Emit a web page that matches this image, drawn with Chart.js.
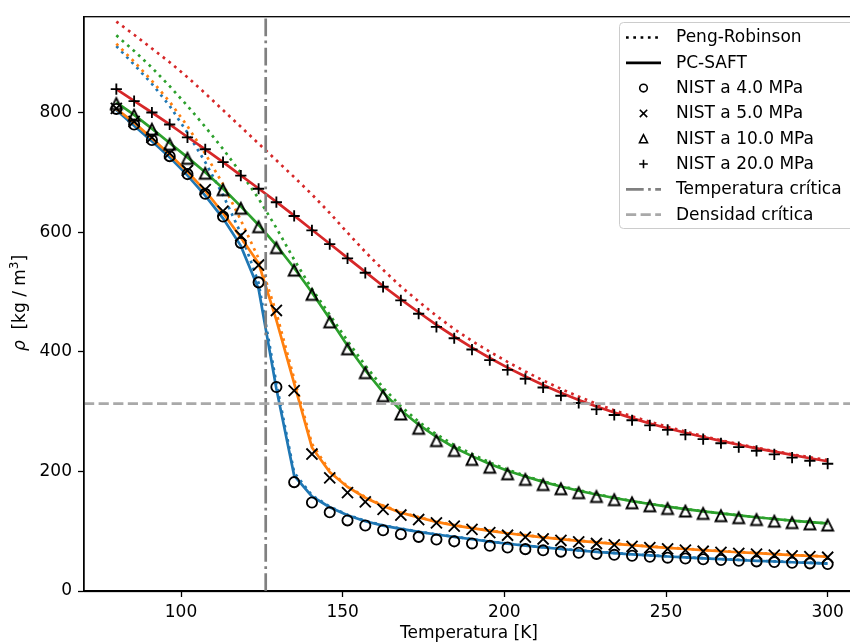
<!DOCTYPE html>
<html lang="es">
<head>
<meta charset="utf-8">
<title>Densidad del nitrógeno</title>
<script src="https://cdn.jsdelivr.net/npm/chart.js@4.4.1/dist/chart.umd.min.js"></script>
<style>
  html, body { margin: 0; padding: 0; background: #fff; overflow: hidden; }
  #grafica { display: block; }
</style>
</head>
<body>
<canvas id="grafica" width="880" height="643"></canvas>
<script>
// Malla de temperaturas [K]
const temperaturas = [80, 85.5, 91, 96.5, 102, 107.5, 113, 118.5, 124, 129.5, 135, 140.5, 146, 151.5, 157, 162.5, 168, 173.5, 179, 184.5,
    190, 195.5, 201, 206.5, 212, 217.5, 223, 228.5, 234, 239.5, 245, 250.5, 256, 261.5, 267, 272.5, 278, 283.5, 289, 294.5, 300];

// Datos NIST [kg/m3]
const nist4 = [806, 780, 754, 727, 697, 664, 626, 582, 516, 341, 182, 148, 131.5, 118, 109.5, 101.5, 95, 90.5, 86, 83,
    79.5, 75.5, 72.8, 70, 68, 65.8, 64, 62, 60.5, 59, 57.3, 55.7, 54.3, 53, 51.8, 50.6, 49.5, 48.4, 47.3, 46.2, 45.2];
const nist5 = [807, 785, 758.5, 732, 703, 671, 635, 594, 545, 469, 335, 229, 189, 164.5, 149, 136.5, 127, 119.5, 114, 108.5,
    103, 97.5, 93.2, 90, 87, 84.5, 82, 79.4, 77, 74.6, 72.4, 70.3, 68.3, 66.4, 64.6, 63, 61.5, 60, 58.6, 57.4, 56.4];
const nist10 = [815, 795.5, 772, 747, 723.5, 698.5, 671, 640, 609, 574, 536.5, 496, 450, 405, 365, 326.5, 296, 272, 251.5, 235,
    220, 207, 196, 186.6, 178, 171, 164.4, 158, 152.7, 147.5, 142.5, 138, 133.7, 129.7, 126, 122.6, 119.5, 116.8, 114.4, 112.3, 110.3];
const nist20 = [839, 819, 800, 780, 758.5, 738.5, 717, 694.5, 672.5, 650, 627, 603, 580, 556, 532, 508.6, 486, 463.6, 441.6, 422.6,
    403.7, 386, 369.8, 354.8, 340.3, 326.5, 314.3, 303.7, 294.3, 285.5, 277, 269.4, 261.5, 254, 247, 240.5, 234.4, 228.5, 223, 217.7, 212.8];

// PC-SAFT [kg/m3]
const saft4 = [804, 778, 752, 725, 695, 661, 623, 577, 505, 338, 193, 158, 140, 126.6, 116.6, 109.4, 103.8, 98.8, 94.4, 90.5,
    86.5, 82.5, 79, 75.8, 72.9, 70.2, 67.7, 65.4, 63.3, 61.3, 59.4, 57.7, 56.1, 54.6, 53.2, 51.8, 50.5, 49.3, 48.1, 47, 45.9];
const saft5 = [806, 783, 757, 730, 701, 669, 632, 591, 548, 453, 347, 240, 199, 174, 156, 142, 131, 122.8, 115.5, 109.8,
    105, 100.6, 96.6, 93, 89.7, 86.7, 83.9, 81.3, 78.9, 76.6, 74.3, 72.2, 70.2, 68.3, 66.5, 64.8, 63.2, 61.6, 60.1, 58.7, 57.3];
const saft10 = [817, 796, 773, 749, 725, 700, 673, 643, 612, 578, 540, 499, 455, 410, 369, 332, 302, 278, 257.5, 240,
    225.5, 212.5, 201, 191.3, 182.5, 174.7, 167.7, 161.3, 155.5, 150.2, 145.5, 141.1, 137, 133.2, 129.7, 126.4, 123.3, 120.4, 117.7, 115.2, 113];
const saft20 = [839, 819.5, 800, 780, 759, 738.5, 717, 695, 673, 650.5, 627.5, 604, 580.5, 557, 533.5, 510, 487.5, 466, 445, 425.5,
    407, 389.5, 373.5, 358.5, 344.5, 331.5, 319.5, 308.5, 298.5, 289, 280, 272, 264.5, 257.5, 251, 244.5, 238.5, 233, 227.5, 222, 217];

// Peng-Robinson [kg/m3]
const pr4 = [911, 880, 848, 811, 766, 717, 662, 598, 515, 347, 198, 160, 141, 127.5, 117.2, 110, 104.3, 99.2, 94.8, 90.8,
    86.8, 82.8, 79.3, 76.1, 73.2, 70.5, 68, 65.7, 63.6, 61.6, 59.7, 58, 56.4, 54.9, 53.5, 52.1, 50.8, 49.6, 48.4, 47.3, 46.2];
const pr5 = [915, 885, 853, 818, 777, 731, 680, 620, 556, 465, 355, 246, 201, 175, 157, 143, 132, 123.5, 116.2, 110.3,
    105.4, 101, 97, 93.4, 90.1, 87.1, 84.3, 81.7, 79.3, 77, 74.7, 72.6, 70.6, 68.7, 66.9, 65.2, 63.6, 62, 60.5, 59.1, 57.7];
const pr10 = [929, 903, 875, 844, 811, 776, 739, 699, 656, 607, 554, 505, 462, 418, 377, 340, 309, 283, 262, 244,
    229, 215, 203, 192.5, 183.5, 175.5, 168.5, 162, 156, 150.6, 145.7, 141.2, 137.1, 133.3, 129.8, 126.5, 123.4, 120.5, 117.8, 115.3, 113.1];
const pr20 = [952, 930, 907, 884, 859, 832, 804, 776, 748, 720, 692, 663, 632, 599, 567, 537, 509, 484, 460, 438,
    418, 400, 383, 367, 352, 338, 325, 313, 302, 292, 283, 274.5, 266.5, 259, 252, 245.5, 239.5, 234, 228.5, 223.5, 219];

const xTicks = [100, 150, 200, 250, 300];
const yTicks = [0, 200, 400, 600, 800];
const tempCritica = 126.2;   // K
const densCritica = 313.3;   // kg/m3

const etiquetasLeyenda = ['Peng-Robinson', 'PC-SAFT', 'NIST a 4.0 MPa', 'NIST a 5.0 MPa', 'NIST a 10.0 MPa',
    'NIST a 20.0 MPa', 'Temperatura crítica', 'Densidad crítica'];

const colores = ['#1f77b4', '#ff7f0e', '#2ca02c', '#d62728'];
const FUENTE = '"DejaVu Sans", "Liberation Sans", sans-serif';
const TAM = 17;                   // tamaño de letra
const GROSOR = 2.7;               // ancho de las curvas
const PUNTEADO = [2.7, 4.6];      // ':'
const RAYA_PUNTO = [17.7, 4.4, 2.7, 4.4];  // '-.'
const RAYADO = [10.2, 4.4];       // '--'

function puntos(valores) {
    return temperaturas.map((t, i) => ({ x: t, y: valores[i] }));
}

// Triangle marker centred on its bounding box
function marcadorTriangulo(medio, grosor) {
    const lado = 2 * Math.ceil(medio + grosor + 1);
    const c = document.createElement('canvas');
    c.width = lado;
    c.height = lado;
    const ctx = c.getContext('2d');
    const m = lado / 2;
    ctx.beginPath();
    ctx.moveTo(m, m - medio);
    ctx.lineTo(m - medio, m + medio);
    ctx.lineTo(m + medio, m + medio);
    ctx.closePath();
    ctx.lineWidth = grosor;
    ctx.strokeStyle = '#000';
    ctx.stroke();
    return c;
}

const triangulo = marcadorTriangulo(5.5, 1.85);

const series = [
    { nist: nist4, saft: saft4, pr: pr4, estilo: 'circle', radio: 5.1 },
    { nist: nist5, saft: saft5, pr: pr5, estilo: 'crossRot', radio: 7.8 },
    { nist: nist10, saft: saft10, pr: pr10, estilo: triangulo, radio: 6 },
    { nist: nist20, saft: saft20, pr: pr20, estilo: 'cross', radio: 5.6 }
];

// first dataset is drawn on top: markers, then PC-SAFT, then Peng-Robinson
function construirDatasets() {
    const datasets = [];
    series.forEach((s, k) => {
        datasets.push({
            label: etiquetasLeyenda[k + 2],
            data: puntos(s.nist),
            showLine: false,
            pointStyle: s.estilo,
            pointRadius: s.radio,
            pointBorderColor: '#000',
            pointBackgroundColor: 'rgba(0,0,0,0)',
            pointBorderWidth: 1.85
        });
    });
    [3, 2, 1, 0].forEach(k => {
        datasets.push({
            label: 'PC-SAFT',
            data: puntos(series[k].saft),
            showLine: true,
            borderColor: colores[k],
            borderWidth: GROSOR,
            pointRadius: 0
        });
    });
    [3, 2, 1, 0].forEach(k => {
        datasets.push({
            label: 'Peng-Robinson',
            data: puntos(series[k].pr),
            showLine: true,
            borderColor: colores[k],
            borderWidth: GROSOR,
            borderDash: PUNTEADO,
            pointRadius: 0
        });
    });
    return datasets;
}

// Critical temperature / density reference lines and the top spine
const lineasCriticas = {
    id: 'lineasCriticas',
    afterDatasetsDraw(chart) {
        const { ctx, chartArea: a, scales: { x, y } } = chart;
        ctx.save();
        ctx.beginPath();
        ctx.rect(a.left, a.top, a.right - a.left, a.bottom - a.top);
        ctx.clip();
        ctx.lineWidth = GROSOR;

        const px = x.getPixelForValue(tempCritica);
        ctx.strokeStyle = '#808080';
        ctx.setLineDash(RAYA_PUNTO);
        ctx.beginPath();
        ctx.moveTo(px, a.bottom);
        ctx.lineTo(px, a.top);
        ctx.stroke();

        const py = y.getPixelForValue(densCritica);
        ctx.strokeStyle = '#a9a9a9';
        ctx.setLineDash(RAYADO);
        ctx.beginPath();
        ctx.moveTo(a.left, py);
        ctx.lineTo(a.right, py);
        ctx.stroke();
        ctx.restore();

        ctx.save();
        ctx.strokeStyle = '#000';
        ctx.lineWidth = 1.3;
        ctx.strokeRect(a.left, a.top + 0.5, a.right - a.left, a.bottom - a.top);
        ctx.restore();
    }
};

// Axis titles and the legend box
const leyenda = {
    id: 'leyenda',
    afterDraw(chart) {
        const ctx = chart.ctx;
        const normal = TAM + 'px ' + FUENTE;
        ctx.save();
        ctx.fillStyle = '#000';

        // x title
        ctx.font = normal;
        ctx.textAlign = 'center';
        ctx.textBaseline = 'middle';
        ctx.fillText('Temperatura [K]', 469, 634);

        // y title: rho [kg / m^3]
        ctx.save();
        ctx.translate(21, 303);
        ctx.rotate(-Math.PI / 2);
        ctx.textAlign = 'left';
        const partes = [
            { t: 'ρ', f: 'italic ' + normal, dy: 0 },
            { t: '  [kg / m', f: normal, dy: 0 },
            { t: '3', f: '12px ' + FUENTE, dy: -6 },
            { t: ']', f: normal, dy: 0 }
        ];
        let total = 0;
        partes.forEach(p => { ctx.font = p.f; p.w = ctx.measureText(p.t).width; total += p.w; });
        let cx = -total / 2;
        partes.forEach(p => { ctx.font = p.f; ctx.fillText(p.t, cx, p.dy); cx += p.w; });
        ctx.restore();

        // legend frame
        const bx = 619.5, by = 22.5, bw = 250, bh = 206, r = 4;
        ctx.beginPath();
        ctx.moveTo(bx + r, by);
        ctx.lineTo(bx + bw - r, by);
        ctx.arcTo(bx + bw, by, bx + bw, by + r, r);
        ctx.lineTo(bx + bw, by + bh - r);
        ctx.arcTo(bx + bw, by + bh, bx + bw - r, by + bh, r);
        ctx.lineTo(bx + r, by + bh);
        ctx.arcTo(bx, by + bh, bx, by + bh - r, r);
        ctx.lineTo(bx, by + r);
        ctx.arcTo(bx, by, bx + r, by, r);
        ctx.closePath();
        ctx.fillStyle = 'rgba(255,255,255,0.8)';
        ctx.fill();
        ctx.strokeStyle = '#cccccc';
        ctx.lineWidth = 1;
        ctx.stroke();

        const x0 = 626, x1 = 661, xm = 643.5;
        etiquetasLeyenda.forEach((texto, i) => {
            const yy = 37.5 + i * 25.3;
            ctx.save();
            ctx.strokeStyle = '#000';
            ctx.lineWidth = GROSOR;
            if (i === 0 || i === 1 || i >= 6) {
                if (i === 0) ctx.setLineDash(PUNTEADO);
                if (i === 6) { ctx.setLineDash(RAYA_PUNTO); ctx.strokeStyle = '#808080'; }
                if (i === 7) { ctx.setLineDash(RAYADO); ctx.strokeStyle = '#a9a9a9'; }
                ctx.beginPath();
                ctx.moveTo(x0, yy);
                ctx.lineTo(x1, yy);
                ctx.stroke();
            } else {
                ctx.lineWidth = 1.6;
                ctx.beginPath();
                if (i === 2) {
                    ctx.arc(xm, yy, 3.8, 0, 2 * Math.PI);
                } else if (i === 3) {
                    ctx.moveTo(xm - 3.7, yy - 3.7); ctx.lineTo(xm + 3.7, yy + 3.7);
                    ctx.moveTo(xm - 3.7, yy + 3.7); ctx.lineTo(xm + 3.7, yy - 3.7);
                } else if (i === 4) {
                    ctx.moveTo(xm, yy - 4); ctx.lineTo(xm - 4, yy + 4); ctx.lineTo(xm + 4, yy + 4); ctx.closePath();
                } else {
                    ctx.moveTo(xm - 4.3, yy); ctx.lineTo(xm + 4.3, yy);
                    ctx.moveTo(xm, yy - 4.3); ctx.lineTo(xm, yy + 4.3);
                }
                ctx.stroke();
            }
            ctx.restore();
            ctx.font = normal;
            ctx.fillStyle = '#000';
            ctx.textAlign = 'left';
            ctx.textBaseline = 'middle';
            ctx.fillText(texto, 676, yy + 0.5);
        });
        ctx.restore();
    }
};

function dibujarGrafica() {
    const ctx = document.getElementById('grafica').getContext('2d');
    new Chart(ctx, {
        type: 'scatter',
        data: { datasets: construirDatasets() },
        options: {
            responsive: false,
            animation: false,
            devicePixelRatio: 1,
            layout: { padding: { top: 14, right: 20, left: 0, bottom: 0 } },
            plugins: { legend: { display: false }, tooltip: { enabled: false } },
            scales: {
                x: {
                    type: 'linear',
                    min: 70,
                    max: 310,
                    afterBuildTicks: axis => { axis.ticks = xTicks.map(v => ({ value: v })); },
                    afterFit: axis => { axis.height = 52; },
                    grid: { drawOnChartArea: false, drawTicks: true, tickLength: 6, tickWidth: 1.3, tickColor: '#000' },
                    border: { display: true, color: '#000', width: 1.3 },
                    ticks: { color: '#000', font: { family: FUENTE, size: TAM }, padding: 5, maxRotation: 0 }
                },
                y: {
                    type: 'linear',
                    min: 0,
                    max: 961,
                    afterBuildTicks: axis => { axis.ticks = yTicks.map(v => ({ value: v })); },
                    afterFit: axis => { axis.width = 84; },
                    grid: { drawOnChartArea: false, drawTicks: true, tickLength: 6, tickWidth: 1.3, tickColor: '#000' },
                    border: { display: true, color: '#000', width: 1.3 },
                    ticks: { color: '#000', font: { family: FUENTE, size: TAM }, padding: 6 }
                }
            }
        },
        plugins: [lineasCriticas, leyenda]
    });
}

window.onload = dibujarGrafica;
</script>
</body>
</html>
